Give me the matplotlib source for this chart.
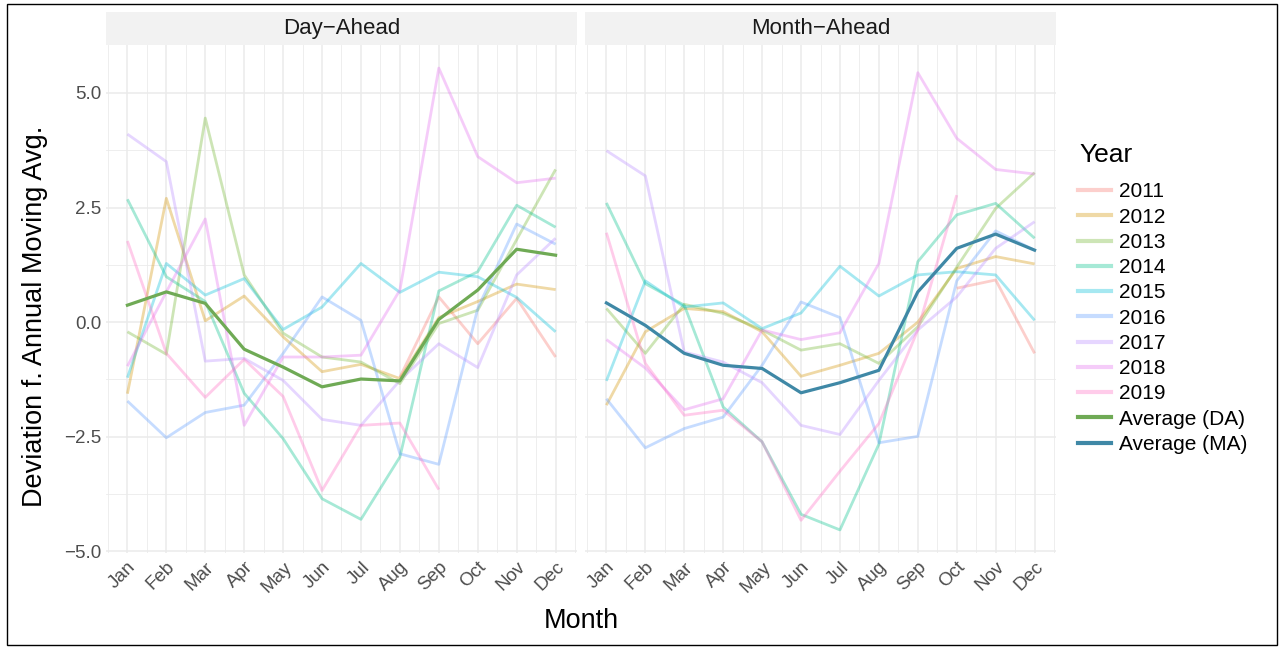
import numpy as np
import matplotlib
matplotlib.use("Agg")
import matplotlib.pyplot as plt
from matplotlib.lines import Line2D
from matplotlib.patches import Rectangle

plt.rcParams['font.family'] = ['Liberation Sans', 'DejaVu Sans']

# Données : écart à la moyenne mobile annuelle, par mois
months = ["Jan", "Feb", "Mar", "Apr", "May", "Jun",
          "Jul", "Aug", "Sep", "Oct", "Nov", "Dec"]
years = ["2011", "2012", "2013", "2014", "2015", "2016", "2017", "2018", "2019"]
nan = np.nan

da_2011 = [nan, nan, nan, nan, nan, nan, nan, -1.2, 0.55, -0.47, 0.52, -0.76]
da_2012 = [-1.56, 2.7, 0.03, 0.57, -0.32, -1.08, -0.92, -1.23, 0.1, 0.45, 0.83, 0.71]
da_2013 = [-0.21, -0.7, 4.45, 1.03, -0.24, -0.76, -0.87, -1.34, -0.03, 0.26, 1.8, 3.33]
da_2014 = [2.68, 0.99, 0.45, -1.55, -2.54, -3.85, -4.3, -2.94, 0.68, 1.1, 2.55, 2.07]
da_2015 = [-1.21, 1.28, 0.59, 0.95, -0.16, 0.33, 1.28, 0.65, 1.09, 0.99, 0.54, -0.21]
da_2016 = [-1.72, -2.52, -1.97, -1.81, -0.68, 0.55, 0.04, -2.87, -3.1, 0.3, 2.14, 1.7]
da_2017 = [4.1, 3.5, -0.85, -0.79, -1.27, -2.12, -2.25, -1.27, -0.47, -0.99, 1.03, 1.83]
da_2018 = [-0.96, 0.66, 2.25, -2.25, -0.76, -0.76, -0.72, 0.7, 5.54, 3.61, 3.04, 3.14]
da_2019 = [1.77, -0.68, -1.64, -0.81, -1.62, -3.67, -2.25, -2.2, -3.65, nan, nan, nan]
da_avg = [0.37, 0.66, 0.41, -0.59, -0.98, -1.41, -1.24, -1.28, 0.06, 0.7, 1.59, 1.46]

ma_2011 = [nan, nan, nan, nan, nan, nan, nan, nan, nan, 0.74, 0.92, -0.68]
ma_2012 = [-1.81, -0.21, 0.3, 0.23, -0.21, -1.18, -0.94, -0.68, 0.0, 1.17, 1.43, 1.27]
ma_2013 = [0.3, -0.68, 0.39, 0.19, -0.17, -0.61, -0.47, -0.9, -0.1, 1.2, 2.48, 3.26]
ma_2014 = [2.6, 0.84, 0.37, -1.85, -2.61, -4.19, -4.53, -2.66, 1.32, 2.34, 2.59, 1.83]
ma_2015 = [-1.28, 0.9, 0.33, 0.42, -0.14, 0.2, 1.22, 0.57, 1.03, 1.1, 1.03, 0.04]
ma_2016 = [-1.67, -2.74, -2.32, -2.07, -0.94, 0.44, 0.1, -2.63, -2.49, 0.9, 1.99, 1.57]
ma_2017 = [3.74, 3.19, -0.65, -0.87, -1.32, -2.25, -2.45, -1.27, -0.17, 0.55, 1.61, 2.19]
ma_2018 = [-0.38, -1.0, -1.91, -1.67, -0.17, -0.38, -0.23, 1.28, 5.44, 4.01, 3.33, 3.23]
ma_2019 = [1.95, -0.9, -2.03, -1.92, -2.61, -4.32, -3.25, -2.21, -0.17, 2.77, nan, nan]
ma_avg = [0.42, -0.07, -0.68, -0.94, -1.01, -1.54, -1.32, -1.05, 0.66, 1.61, 1.92, 1.57]

da_years = [da_2011, da_2012, da_2013, da_2014, da_2015, da_2016, da_2017, da_2018, da_2019]
ma_years = [ma_2011, ma_2012, ma_2013, ma_2014, ma_2015, ma_2016, ma_2017, ma_2018, ma_2019]

year_colors = ["#F8766D", "#D39200", "#72B62E", "#00C08B", "#00BFD8",
               "#5E9CFF", "#B88AFF", "#E56EF0", "#FF6DC4"]
col_da = "#6FAA55"
col_ma = "#3F88A6"

x = np.arange(1, 13)

# échelle y commune (comme facet_wrap) avec 5 % de marge
all_vals = np.array(da_years + ma_years + [da_avg, ma_avg], dtype=float)
lo, hi = np.nanmin(all_vals), np.nanmax(all_vals)
pad = (hi - lo) * 0.05
ylim = (lo - pad, hi + pad)

W, H = 1284, 650
fig = plt.figure(figsize=(W / 100, H / 100), dpi=100)

panel_top, panel_bot = 45, 553
panels = [("Day\u2212Ahead", 106, 577, da_years, da_avg, col_da),
          ("Month\u2212Ahead", 585, 1056, ma_years, ma_avg, col_ma)]

axes = []
for title, left, right, series, avg, avg_col in panels:
    ax = fig.add_axes([left / W, 1 - panel_bot / H, (right - left) / W,
                       (panel_bot - panel_top) / H])
    for vals, c in zip(series, year_colors):
        ax.plot(x, vals, color=c, alpha=0.35, lw=2.0, solid_capstyle="butt")
    ax.plot(x, avg, color=avg_col, lw=2.3)

    ax.set_xlim(0.45, 12.55)
    ax.set_ylim(*ylim)
    ax.set_xticks(x)
    ax.set_xticklabels(months, rotation=45, ha="right", va="top",
                       rotation_mode="anchor")
    ax.set_xticks(np.arange(0.5, 13, 1), minor=True)
    ax.set_yticks([-5, -2.5, 0, 2.5, 5])
    ax.set_yticks([-3.75, -1.25, 1.25, 3.75], minor=True)
    ax.grid(which="major", color="#EBEBEB", lw=1.1)
    ax.grid(which="minor", color="#EBEBEB", lw=0.6)
    ax.set_axisbelow(True)
    ax.tick_params(which="both", length=0, labelsize=13.5, labelcolor="#4D4D4D")
    ax.tick_params(axis="x", pad=4)
    for s in ax.spines.values():
        s.set_visible(False)

    # bandeau du facet
    fig.patches.append(Rectangle((left / W, 1 - panel_top / H), (right - left) / W,
                                 33 / H, transform=fig.transFigure,
                                 facecolor="#F2F2F2", edgecolor="none"))
    fig.text((left + right) / 2 / W, 1 - (panel_top - 16.5) / H, title,
             ha="center", va="center", fontsize=16, color="#1A1A1A")
    axes.append(ax)

axes[0].set_yticklabels(["\u22125.0", "\u22122.5", "0.0", "2.5", "5.0"])
axes[1].set_yticklabels([])

fig.text(35 / W, 1 - 316 / H, "Deviation f. Annual Moving Avg.", rotation=90,
         ha="center", va="center", fontsize=19.5)
fig.text(581 / W, 1 - 621 / H, "Month", ha="center", va="center", fontsize=19.5)

# légende (titre placé à part pour garder l'écart du modèle)
fig.text(1079 / W, 1 - 155 / H, "Year", ha="left", va="center", fontsize=19)
handles = [Line2D([], [], color=c, alpha=0.35, lw=3) for c in year_colors]
handles += [Line2D([], [], color=col_da, lw=3), Line2D([], [], color=col_ma, lw=3)]
labels = years + ["Average (DA)", "Average (MA)"]
leg = fig.legend(handles, labels, loc="upper left",
                 bbox_to_anchor=(1070 / W, 1 - 174 / H), frameon=False,
                 borderaxespad=0, fontsize=15,
                 handlelength=1.55, handletextpad=0.4, labelspacing=0.3)

# cadre autour de la figure
fig.patches.append(Rectangle((7 / W, 5 / H), 1270 / W, 641 / H,
                             transform=fig.transFigure, fill=False,
                             edgecolor="black", lw=1.0))

plt.savefig("out.png", dpi=100)
